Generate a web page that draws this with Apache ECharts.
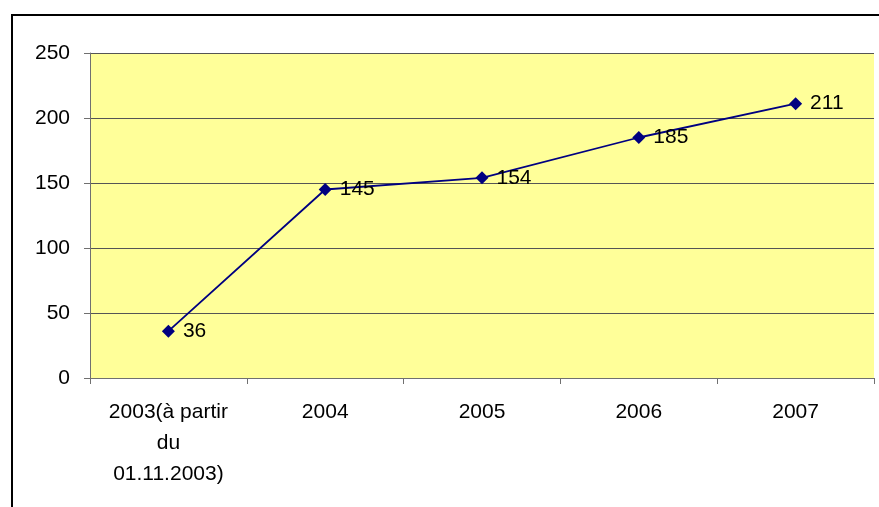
<!DOCTYPE html>
<html><head><meta charset="utf-8">
<script src="https://cdn.jsdelivr.net/npm/echarts@6/dist/echarts.min.js"></script>
<style>html,body{margin:0;padding:0;background:#fff}#c{width:879px;height:507px}</style>
</head><body><div id="c"></div>
<script>
const categories = ['2003(à partir\ndu\n01.11.2003)', '2004', '2005', '2006', '2007'];
const values = [36, 145, 154, 185, 211];
const yTicks = {min: 0, max: 250, interval: 50};

const chart = echarts.init(document.getElementById('c'));
chart.setOption({
  animation: false,
  textStyle: {fontFamily: 'Liberation Sans, Arial, sans-serif'},
  graphic: [{
    type: 'rect', z: 100, silent: true,
    shape: {x: 12, y: 15, width: 1000, height: 1000},
    style: {fill: 'none', stroke: '#000', lineWidth: 2}
  }],
  grid: {left: 90, top: 53, right: 5, bottom: 129, show: true, backgroundColor: '#FFFF99', borderWidth: 0},
  xAxis: {
    type: 'category', data: categories, boundaryGap: true,
    axisLine: {lineStyle: {color: '#707070', width: 1}},
    axisTick: {show: true, length: 6, lineStyle: {color: '#707070'}},
    axisLabel: {color: '#000', fontSize: 21, margin: 19, lineHeight: 31, interval: 0}
  },
  yAxis: {
    type: 'value', min: yTicks.min, max: yTicks.max, interval: yTicks.interval,
    axisLine: {show: true, lineStyle: {color: '#707070', width: 1}},
    axisTick: {show: true, length: 6, lineStyle: {color: '#707070'}},
    axisLabel: {color: '#000', fontSize: 21, margin: 20},
    splitLine: {show: true, lineStyle: {color: '#555', width: 1}}
  },
  series: [{
    type: 'line', data: values,
    symbol: 'diamond', symbolSize: 13,
    lineStyle: {color: '#000080', width: 1.8},
    itemStyle: {color: '#000080'},
    label: {show: true, position: 'right', distance: 8, color: '#000', fontSize: 21}
  }]
});
</script></body></html>
